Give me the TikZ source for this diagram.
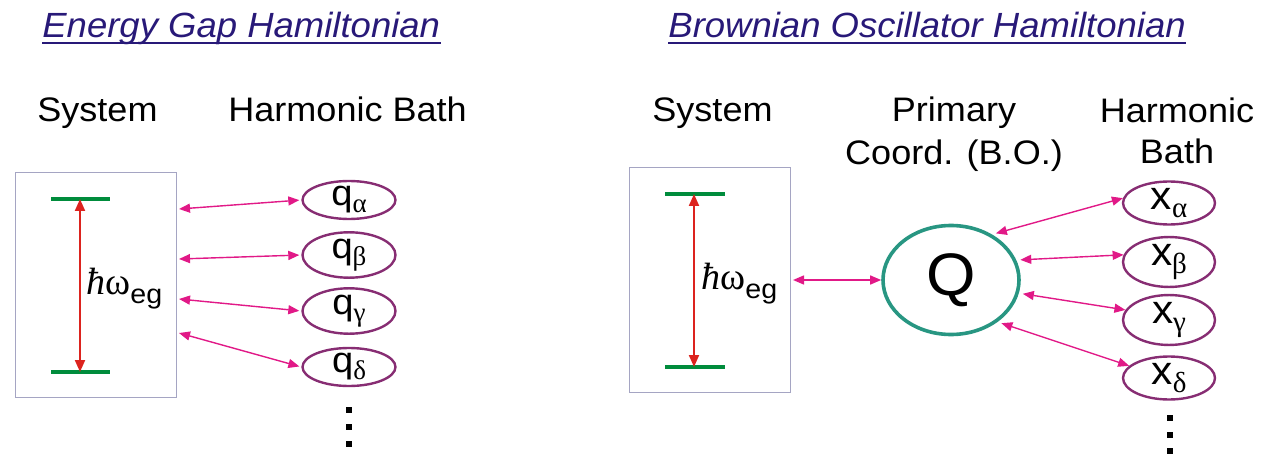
\documentclass[tikz,border=0pt]{standalone}
\usepackage{fontspec}
\setmainfont[FakeStretch=1.06]{Liberation Sans}
\newfontfamily\titlefont[FakeStretch=1.043]{Liberation Sans}
\newfontfamily\grk{Liberation Serif}
\usetikzlibrary{arrows.meta,shapes.geometric}
\definecolor{navy}{RGB}{40,25,120}
\definecolor{plum}{RGB}{135,45,115}
\definecolor{pinkarr}{RGB}{225,25,135}
\definecolor{lvlgreen}{RGB}{0,140,60}
\definecolor{redarr}{RGB}{220,35,30}
\definecolor{tealc}{RGB}{40,150,130}
\definecolor{boxgray}{RGB}{165,165,195}
\newcommand\hweg{{\grk\itshape ħ}{\grk ω}\raisebox{-4.5pt}{\fontsize{13.5}{13.5}\selectfont eg}}
\newcommand\qsub[1]{{\fontsize{18}{18}\selectfont q\raisebox{-3.5pt}{\grk\fontsize{13.5}{13.5}\selectfont #1}}}
\newcommand\xsub[1]{{\fontsize{20}{20}\selectfont x\raisebox{-4pt}{\grk\fontsize{14.5}{14.5}\selectfont #1}}}
\begin{document}
\begin{tikzpicture}[x=0.5pt,y=-0.5pt,
  ttl/.style={anchor=base west, inner sep=0, text=navy, font=\titlefont\itshape\fontsize{17.5}{20}\selectfont},
  uline/.style={draw=navy, line width=1pt},
  lbl/.style={inner sep=0, font=\fontsize{17}{20}\selectfont},
  sysbox/.style={draw=boxgray, line width=0.5pt, minimum width=80.5pt, minimum height=112pt, inner sep=0},
  enlevel/.style={draw=lvlgreen, line width=2pt},
  gaparrow/.style={draw=redarr, line width=1pt, {Triangle[length=6pt,width=5pt]}-{Triangle[length=6pt,width=5pt]}},
  cpl/.style={draw=pinkarr, line width=0.7pt, {Triangle[length=5.5pt,width=4.5pt]}-{Triangle[length=5.5pt,width=4.5pt]}},
  bathq/.style={ellipse, draw=plum, line width=1.2pt, minimum width=46.5pt, minimum height=19pt, inner sep=0},
  bathx/.style={ellipse, draw=plum, line width=1.2pt, minimum width=46pt, minimum height=21.5pt, inner sep=0},
  prim/.style={ellipse, draw=tealc, line width=1.8pt, minimum width=68pt, minimum height=54.5pt, inner sep=0, font=\fontsize{30}{30}\selectfont},
  hwlbl/.style={anchor=base west, inner sep=0, font=\fontsize{19}{19}\selectfont},
  dotsq/.style={fill=black, minimum size=2.8pt, inner sep=0}
]
\useasboundingbox (0,0) rectangle (1262,454);

% ---------- Left: Energy Gap Hamiltonian ----------
\node[ttl] (t1) at (42,38) {Energy Gap Hamiltonian};
\draw[uline] ([yshift=-2.5pt]t1.base west) -- ([yshift=-2.5pt]t1.base east);
\node[lbl, anchor=base west] (sys1) at (37,122) {System};
\node[lbl, anchor=base west] (bath1) at (228,122) {Harmonic Bath};

\node[sysbox] (box1) at (95.5,285) {};
\coordinate (e1l) at (51,199); \coordinate (e1r) at (110,199);
\coordinate (g1l) at (51,372); \coordinate (g1r) at (110,372);
\coordinate (e1) at (80,199); \coordinate (g1) at (80,372);
\draw[enlevel] (e1l) -- (e1r);
\draw[enlevel] (g1l) -- (g1r);
\draw[gaparrow] (e1) -- (g1);
\node[hwlbl] (hw1) at (86,294) {\hweg};

\node[bathq] (qa) at (349,200) {\qsub{α}};
\node[bathq] (qb) at (349,255) {\qsub{β}};
\node[bathq] (qc) at (349,311) {\qsub{γ}};
\node[bathq] (qd) at (349,367) {\qsub{δ}};

\coordinate (a1) at (179,209);
\coordinate (a2) at (179,259);
\coordinate (a3) at (179,299);
\coordinate (a4) at (179,333);
\draw[cpl, shorten >=1pt] (a1) -- (qa.west);
\draw[cpl, shorten >=1pt] (a2) -- (qb.west);
\draw[cpl, shorten >=1pt] (a3) -- (qc.west);
\draw[cpl, shorten >=1pt] (a4) -- (qd.west);

\node[dotsq] (ld1) at (349,410) {};
\node[dotsq] (ld2) at (349,427) {};
\node[dotsq] (ld3) at (349,444) {};

% ---------- Right: Brownian Oscillator Hamiltonian ----------
\node[ttl] (t2) at (668,38) {Brownian Oscillator Hamiltonian};
\draw[uline] ([yshift=-2.5pt]t2.base west) -- ([yshift=-2.5pt]t2.base east);
\node[lbl, anchor=base west] (sys2) at (652,122) {System};
\node[lbl, anchor=base] (pc1) at (954,122) {Primary};
\node[lbl, anchor=base] (pc2) at (954,165) {Coord. (B.O.)};
\node[lbl, anchor=base] (hb1) at (1177,123) {Harmonic};
\node[lbl, anchor=base] (hb2) at (1177,164) {Bath};

\node[sysbox] (box2) at (710,280) {};
\coordinate (e2l) at (665,194); \coordinate (e2r) at (725,194);
\coordinate (g2l) at (665,367); \coordinate (g2r) at (725,367);
\coordinate (e2) at (694,194); \coordinate (g2) at (694,367);
\draw[enlevel] (e2l) -- (e2r);
\draw[enlevel] (g2l) -- (g2r);
\draw[gaparrow] (e2) -- (g2);
\node[hwlbl] (hw2) at (701,289) {\hweg};

\node[prim] (Q) at (951,280) {Q};
\coordinate (b2) at (793,280);
\draw[cpl] (b2) -- (Q.west);

\node[bathx] (xa) at (1169,203) {\xsub{α}};
\node[bathx] (xb) at (1169,262) {\xsub{β}};
\node[bathx] (xc) at (1169,320) {\xsub{γ}};
\node[bathx] (xd) at (1169,378) {\xsub{δ}};

\draw[cpl, shorten <=2pt] (Q.48) -- (xa.174);
\draw[cpl, shorten <=2pt] (Q.17) -- (xb.171);
\draw[cpl, shorten <=2pt] (Q.-11) -- (xc.167);
\draw[cpl, shorten <=2pt] (Q.-42) -- (xd.163);

\node[dotsq] (rd1) at (1170,418) {};
\node[dotsq] (rd2) at (1170,435) {};
\node[dotsq] (rd3) at (1170,451) {};
\end{tikzpicture}
\end{document}
